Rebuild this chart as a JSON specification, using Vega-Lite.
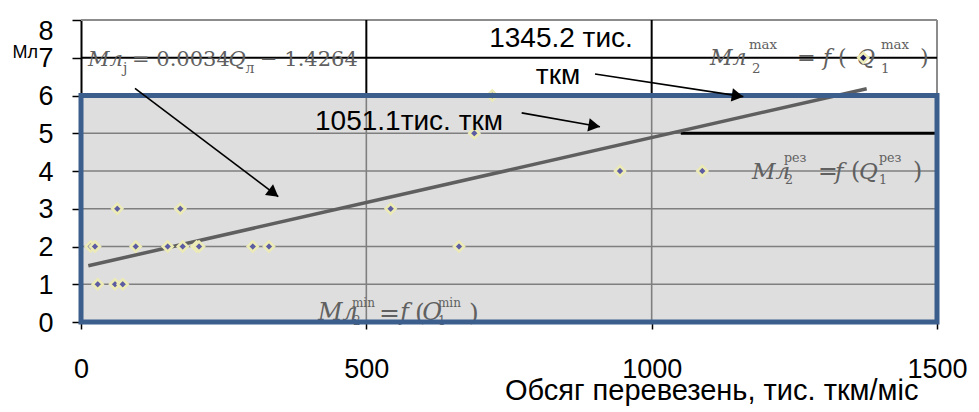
{
  "$schema": "https://vega.github.io/schema/vega-lite/v6.json",
  "width": 856,
  "height": 302,
  "autosize": {"type": "none"},
  "padding": {"left": 81, "top": 20, "right": 42, "bottom": 90},
  "background": "white",
  "config": {"view": {"stroke": null}, "font": "Liberation Sans"},
  "datasets": {
    "panel": [{"x0": 0, "x1": 1500, "y0": 0, "y1": 6}],
    "lines": [
      {"kind": "grid", "x": 0, "x2": 1500, "y": 1, "y2": 1},
      {"kind": "grid", "x": 0, "x2": 1500, "y": 2, "y2": 2},
      {"kind": "grid", "x": 0, "x2": 1500, "y": 3, "y2": 3},
      {"kind": "grid", "x": 0, "x2": 1500, "y": 4, "y2": 4},
      {"kind": "grid", "x": 0, "x2": 1500, "y": 5, "y2": 5},
      {"kind": "grid", "x": 500, "x2": 500, "y": 0, "y2": 6},
      {"kind": "grid", "x": 1000, "x2": 1000, "y": 0, "y2": 6},
      {"kind": "outer", "x": 0, "x2": 1500, "y": 7, "y2": 7},
      {"kind": "outer", "x": 500, "x2": 500, "y": 6, "y2": 8},
      {"kind": "outer", "x": 1000, "x2": 1000, "y": 6, "y2": 8},
      {"kind": "frame", "x": 0, "x2": 1500, "y": 8, "y2": 8},
      {"kind": "frame", "x": 1500, "x2": 1500, "y": 6, "y2": 8},
      {"kind": "level", "x": 1051.1, "x2": 1497, "y": 5, "y2": 5}
    ],
    "points": [
      {"q": 17.0, "m": 2}, {"q": 24.5, "m": 2}, {"q": 63.6, "m": 3}, {"q": 95.9, "m": 2},
      {"q": 151.9, "m": 2}, {"q": 174.0, "m": 3}, {"q": 178.2, "m": 2}, {"q": 202.7, "m": 2},
      {"q": 206.8, "m": 2}, {"q": 300.9, "m": 2}, {"q": 329.4, "m": 2}, {"q": 542.6, "m": 3},
      {"q": 662.4, "m": 2}, {"q": 689.2, "m": 5}, {"q": 720.7, "m": 6}, {"q": 944.5, "m": 4},
      {"q": 1088.7, "m": 4}, {"q": 1370.8, "m": 7}, {"q": 29.3, "m": 1}, {"q": 59.6, "m": 1},
      {"q": 73.1, "m": 1}
    ],
    "trend": [{"q": 12.8, "m": 1.49}, {"q": 1376.8, "m": 6.18}],
    "arrows": [
      {"id": "a1", "x": 94.6, "y": 6.19, "x2": 345.7, "y2": 3.32},
      {"id": "a2", "x": 900.7, "y": 6.57, "x2": 1160.6, "y2": 5.97},
      {"id": "a3", "x": 772.2, "y": 5.54, "x2": 909.4, "y2": 5.17}
    ],
    "notes": [
      {"t": "1345.2 тис.", "x": 841.1, "y": 7.5},
      {"t": "ткм", "x": 835.9, "y": 6.52},
      {"t": "1051.1тис. ткм", "x": 574.8, "y": 5.3}
    ],
    "formula": [
      {"f": "eq", "r": "it", "t": "Мл", "x": 12.3, "y": 6.93},
      {"f": "eq", "r": "sc", "t": "j", "x": 73.6, "y": 6.7},
      {"f": "eq", "r": "up", "t": "= 0.0034", "x": 89.4, "y": 6.93},
      {"f": "eq", "r": "it", "t": "Q", "x": 258.5, "y": 6.93},
      {"f": "eq", "r": "sc", "t": "л", "x": 288.3, "y": 6.7},
      {"f": "eq", "r": "up", "t": "− 1.4264", "x": 313.7, "y": 6.93},
      {"f": "max", "r": "it", "t": "Мл", "x": 1102.2, "y": 6.99},
      {"f": "max", "r": "sc", "t": "max", "x": 1170.5, "y": 7.34},
      {"f": "max", "r": "sc", "t": "2", "x": 1175.8, "y": 6.7},
      {"f": "max", "r": "up", "t": "=", "x": 1254.6, "y": 6.99},
      {"f": "max", "r": "it", "t": "f", "x": 1300.2, "y": 6.99},
      {"f": "max", "r": "up", "t": "(", "x": 1326.5, "y": 6.99},
      {"f": "max", "r": "it", "t": "Q", "x": 1359.8, "y": 6.99},
      {"f": "max", "r": "sc", "t": "max", "x": 1401.8, "y": 7.34},
      {"f": "max", "r": "sc", "t": "1", "x": 1401.8, "y": 6.7},
      {"f": "max", "r": "up", "t": ")", "x": 1470.2, "y": 6.99},
      {"f": "rez", "r": "it", "t": "Мл", "x": 1175.8, "y": 3.98},
      {"f": "rez", "r": "sc", "t": "рез", "x": 1231.8, "y": 4.35},
      {"f": "rez", "r": "sc", "t": "2", "x": 1233.5, "y": 3.76},
      {"f": "rez", "r": "up", "t": "=", "x": 1291.4, "y": 3.98},
      {"f": "rez", "r": "it", "t": "f", "x": 1321.2, "y": 3.98},
      {"f": "rez", "r": "up", "t": "(", "x": 1349.3, "y": 3.98},
      {"f": "rez", "r": "it", "t": "Q", "x": 1363.3, "y": 3.98},
      {"f": "rez", "r": "sc", "t": "рез", "x": 1398.3, "y": 4.35},
      {"f": "rez", "r": "sc", "t": "1", "x": 1398.3, "y": 3.76},
      {"f": "rez", "r": "up", "t": ")", "x": 1457.9, "y": 3.98},
      {"f": "min", "r": "it", "t": "Мл", "x": 415.3, "y": 0.24},
      {"f": "min", "r": "sc", "t": "min", "x": 474.8, "y": 0.5},
      {"f": "min", "r": "sc", "t": "2", "x": 476.6, "y": 0.03},
      {"f": "min", "r": "up", "t": "=", "x": 522.1, "y": 0.24},
      {"f": "min", "r": "it", "t": "f", "x": 559, "y": 0.24},
      {"f": "min", "r": "up", "t": "(", "x": 585.3, "y": 0.24},
      {"f": "min", "r": "it", "t": "Q", "x": 597.5, "y": 0.24},
      {"f": "min", "r": "sc", "t": "min", "x": 625.5, "y": 0.5},
      {"f": "min", "r": "sc", "t": "1", "x": 625.5, "y": 0.03},
      {"f": "min", "r": "up", "t": ")", "x": 679.8, "y": 0.24}
    ]
  },
  "resolve": {"scale": {"size": "independent"}},
  "layer": [
    {
      "data": {"name": "panel"},
      "mark": {"type": "rect", "fill": "#DEDEDE"},
      "encoding": {
        "x": {"field": "x0", "type": "quantitative",
          "scale": {"domain": [0, 1500], "nice": false, "zero": false},
          "axis": {"values": [0, 500, 1000, 1500], "tickCount": 10, "format": "d", "title": "Обсяг перевезень, тис. ткм/міс",
            "grid": false, "domain": false, "tickColor": "black", "tickSize": 7, "tickWidth": 1.5,
            "labelFont": "Liberation Sans", "labelFontSize": 27, "labelColor": "black", "labelPadding": 27,
            "labelFlush": false, "labelOverlap": false, "labelBound": false,
            "titleFont": "Liberation Sans", "titleFontSize": 29, "titleFontWeight": "normal", "titleColor": "black",
            "titleAlign": "right", "titleAnchor": "end", "titleX": 837, "titleY": 54, "titleBaseline": "top"}},
        "x2": {"field": "x1"},
        "y": {"field": "y0", "type": "quantitative",
          "scale": {"domain": [0, 8], "nice": false, "zero": false},
          "axis": {"values": [0, 1, 2, 3, 4, 5, 6, 7, 8], "tickCount": 20, "format": "d", "title": "Мл", "grid": false,
            "domainColor": "black", "domainWidth": 2, "tickColor": "black", "tickSize": 9, "tickWidth": 1.5,
            "labelFont": "Liberation Sans", "labelFontSize": 27, "labelColor": "black", "labelPadding": 19,
            "labelFlush": false, "labelOverlap": false, "labelBound": false,
            "labelOffset": {"condition": {"test": "datum.value == 8", "value": 11}, "value": 1},
            "titleFont": "Liberation Sans", "titleFontSize": 18, "titleFontWeight": "normal", "titleColor": "black",
            "titleAngle": 0, "titleAlign": "left", "titleBaseline": "alphabetic", "titleX": -69, "titleY": 37}},
        "y2": {"field": "y1"}
      }
    },
    {
      "data": {"name": "lines"},
      "transform": [{"filter": "datum.kind == 'grid'"}],
      "mark": {"type": "rule", "color": "#7F7F7F", "strokeWidth": 1.6},
      "encoding": {
        "x": {"field": "x", "type": "quantitative"}, "x2": {"field": "x2"},
        "y": {"field": "y", "type": "quantitative"}, "y2": {"field": "y2"}
      }
    },
    {
      "data": {"name": "lines"},
      "transform": [{"filter": "datum.kind == 'frame'"}],
      "mark": {"type": "rule", "color": "#8C8C8C", "strokeWidth": 2},
      "encoding": {
        "x": {"field": "x", "type": "quantitative"}, "x2": {"field": "x2"},
        "y": {"field": "y", "type": "quantitative"}, "y2": {"field": "y2"}
      }
    },
    {
      "data": {"name": "lines"},
      "transform": [{"filter": "datum.kind == 'outer'"}],
      "mark": {"type": "rule", "color": "#000000", "strokeWidth": 2},
      "encoding": {
        "x": {"field": "x", "type": "quantitative"}, "x2": {"field": "x2"},
        "y": {"field": "y", "type": "quantitative"}, "y2": {"field": "y2"}
      }
    },
    {
      "data": {"name": "lines"},
      "transform": [{"filter": "datum.kind == 'level'"}],
      "mark": {"type": "rule", "color": "#000000", "strokeWidth": 3},
      "encoding": {
        "x": {"field": "x", "type": "quantitative"}, "x2": {"field": "x2"},
        "y": {"field": "y", "type": "quantitative"}, "y2": {"field": "y2"}
      }
    },
    {
      "data": {"name": "formula"},
      "transform": [{"filter": "datum.r == 'it'"}],
      "mark": {"type": "text", "font": "DejaVu Serif", "fontStyle": "italic", "align": "left", "baseline": "middle", "color": "#606060"},
      "encoding": {
        "x": {"field": "x", "type": "quantitative"},
        "y": {"field": "y", "type": "quantitative"},
        "text": {"field": "t"},
        "size": {"field": "f", "type": "nominal", "legend": null,
          "scale": {"domain": ["eq", "max", "rez", "min"], "range": [21, 24, 17, 18]}}
      }
    },
    {
      "data": {"name": "formula"},
      "transform": [{"filter": "datum.r == 'up'"}],
      "mark": {"type": "text", "font": "DejaVu Serif", "align": "left", "baseline": "middle", "color": "#606060"},
      "encoding": {
        "x": {"field": "x", "type": "quantitative"},
        "y": {"field": "y", "type": "quantitative"},
        "text": {"field": "t"},
        "size": {"field": "f", "type": "nominal", "legend": null,
          "scale": {"domain": ["eq", "max", "rez", "min"], "range": [21, 25, 19, 20]}}
      }
    },
    {
      "data": {"name": "formula"},
      "transform": [{"filter": "datum.r == 'sc'"}],
      "mark": {"type": "text", "font": "DejaVu Serif", "align": "left", "baseline": "middle", "color": "#606060"},
      "encoding": {
        "x": {"field": "x", "type": "quantitative"},
        "y": {"field": "y", "type": "quantitative"},
        "text": {"field": "t"},
        "size": {"field": "f", "type": "nominal", "legend": null,
          "scale": {"domain": ["eq", "max", "rez", "min"], "range": [14, 12, 10, 10]}}
      }
    },
    {
      "data": {"name": "trend"},
      "mark": {"type": "line", "color": "#5F5F5F", "strokeWidth": 3.5},
      "encoding": {
        "x": {"field": "q", "type": "quantitative"},
        "y": {"field": "m", "type": "quantitative"}
      }
    },
    {
      "data": {"name": "points"},
      "mark": {"type": "point", "shape": "diamond", "filled": true, "size": 100, "stroke": "#EDEBB5", "strokeWidth": 2.5, "opacity": 1},
      "encoding": {
        "x": {"field": "q", "type": "quantitative"},
        "y": {"field": "m", "type": "quantitative"},
        "fill": {"condition": {"test": "datum.m == 7", "value": "#14145E"}, "value": "#5C5CA3"}
      }
    },
    {
      "data": {"name": "panel"},
      "mark": {"type": "rect", "fill": null, "fillOpacity": 0, "stroke": "#3B5E8D", "strokeWidth": 5},
      "encoding": {
        "x": {"field": "x0", "type": "quantitative"}, "x2": {"field": "x1"},
        "y": {"field": "y0", "type": "quantitative"}, "y2": {"field": "y1"}
      }
    },
    {
      "data": {"name": "arrows"},
      "mark": {"type": "rule", "color": "black", "strokeWidth": 1.6},
      "encoding": {
        "x": {"field": "x", "type": "quantitative"}, "x2": {"field": "x2"},
        "y": {"field": "y", "type": "quantitative"}, "y2": {"field": "y2"}
      }
    },
    {
      "data": {"name": "arrows"},
      "transform": [{"filter": "datum.id == 'a1'"}],
      "mark": {"type": "point", "shape": "triangle-right", "filled": true, "color": "black", "size": 180, "angle": 37, "xOffset": -4.6, "yOffset": -3.5, "opacity": 1},
      "encoding": {
        "x": {"field": "x2", "type": "quantitative"},
        "y": {"field": "y2", "type": "quantitative"}
      }
    },
    {
      "data": {"name": "arrows"},
      "transform": [{"filter": "datum.id == 'a2'"}],
      "mark": {"type": "point", "shape": "triangle-right", "filled": true, "color": "black", "size": 180, "angle": 9, "xOffset": -5.7, "yOffset": -0.9, "opacity": 1},
      "encoding": {
        "x": {"field": "x2", "type": "quantitative"},
        "y": {"field": "y2", "type": "quantitative"}
      }
    },
    {
      "data": {"name": "arrows"},
      "transform": [{"filter": "datum.id == 'a3'"}],
      "mark": {"type": "point", "shape": "triangle-right", "filled": true, "color": "black", "size": 180, "angle": 10, "xOffset": -5.7, "yOffset": -1, "opacity": 1},
      "encoding": {
        "x": {"field": "x2", "type": "quantitative"},
        "y": {"field": "y2", "type": "quantitative"}
      }
    },
    {
      "data": {"name": "notes"},
      "mark": {"type": "text", "font": "Liberation Sans", "fontSize": 28, "align": "center", "baseline": "middle", "color": "black"},
      "encoding": {
        "x": {"field": "x", "type": "quantitative"},
        "y": {"field": "y", "type": "quantitative"},
        "text": {"field": "t"}
      }
    }
  ]
}
